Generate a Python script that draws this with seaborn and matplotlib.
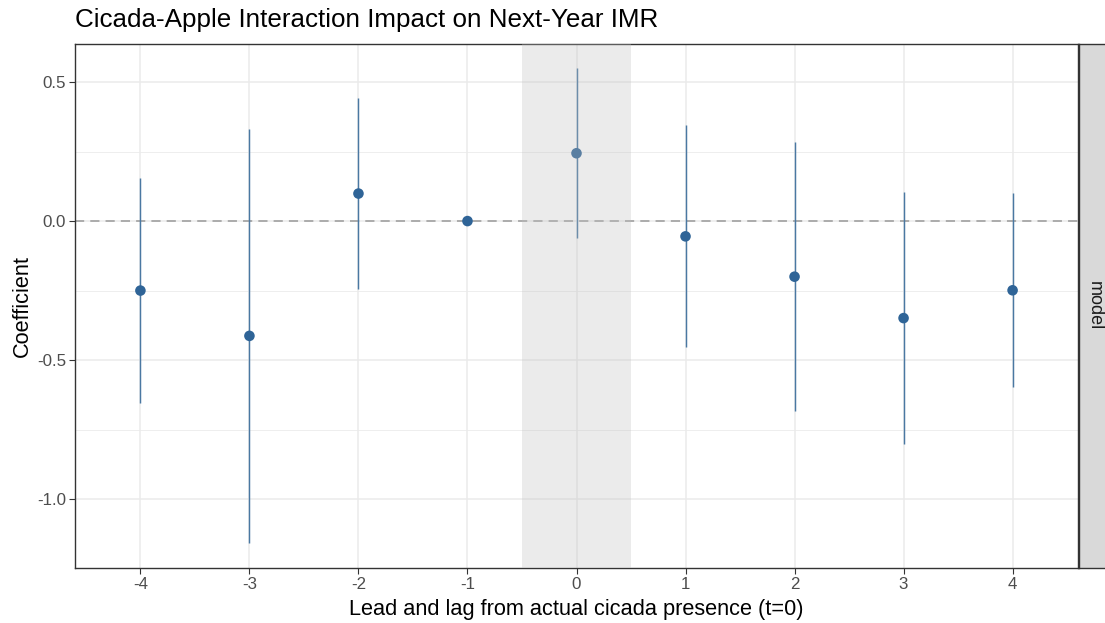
import numpy as np
import pandas as pd
import matplotlib
matplotlib.use("Agg")
import matplotlib.pyplot as plt
import seaborn as sns

# ---- data ----
periods = [-4, -3, -2, -1, 0, 1, 2, 3, 4]
estimates = [-0.250, -0.413, 0.099, 0.000, 0.244, -0.055, -0.200, -0.349, -0.249]
ci_low = [-0.653, -1.159, -0.243, 0.000, -0.062, -0.454, -0.682, -0.801, -0.596]
ci_high = [0.154, 0.333, 0.441, 0.000, 0.551, 0.345, 0.284, 0.105, 0.101]
y_ticks = [0.5, 0.0, -0.5, -1.0]
y_tick_labels = ["0.5", "0.0", "-0.5", "-1.0"]
title = "Cicada-Apple Interaction Impact on Next-Year IMR"
x_label = "Lead and lag from actual cicada presence (t=0)"
y_label = "Coefficient"
strip_label = "model"

df = pd.DataFrame({"period": periods, "estimate": estimates,
                   "low": ci_low, "high": ci_high})

sns.set_theme(style="white")
plt.rcParams["font.family"] = ["Liberation Sans", "DejaVu Sans"]

fig = plt.figure(figsize=(11.05, 6.23), dpi=100)
L, R, T, B = 75, 1078, 44, 568
W, H = 1105, 623
ax = fig.add_axes([L / W, 1 - B / H, (R - L) / W, (B - T) / H])

ax.set_facecolor("white")
ax.set_xlim(-4.6, 4.6)
ax.set_ylim(-1.248, 0.637)

# grid
for yv in [0.25, -0.25, -0.75]:
    ax.axhline(yv, color="#EBEBEB", lw=0.6, zorder=0)
for yv in y_ticks:
    ax.axhline(yv, color="#EBEBEB", lw=1.1, zorder=0)
for xv in periods:
    ax.axvline(xv, color="#EBEBEB", lw=1.1, zorder=0)

ax.axhline(0, color="#999999", lw=1.1, ls=(0, (6, 4)), zorder=1)

ax.vlines(df["period"], df["low"], df["high"], color="#4A78A2", lw=1.05, zorder=2)
sns.scatterplot(data=df, x="period", y="estimate", ax=ax, color="#2F6497",
                s=58, edgecolor="none", linewidth=0, zorder=3, legend=False)

ax.axvspan(-0.5, 0.5, color="#BEBEBE", alpha=0.3, lw=0, zorder=4)

ax.set_xticks(periods)
ax.set_xticklabels([str(p) for p in periods])
ax.set_yticks(y_ticks)
ax.set_yticklabels(y_tick_labels)
ax.tick_params(axis="both", which="major", length=4, width=0.8, color="#333333",
               labelcolor="#4D4D4D", labelsize=12.2, pad=2.5, bottom=True, left=True)
for sp in ax.spines.values():
    sp.set_color("#333333")
    sp.set_linewidth(1.0)
    sp.set_visible(True)

ax.set_xlabel(x_label, fontsize=15.7, color="black", labelpad=5)
ax.set_ylabel(y_label, fontsize=15.7, color="black", labelpad=3)

fig.text(L / W, 1 - 20 / H, title, fontsize=18.7, color="black",
         ha="left", va="center")

# facet strip on the right
sax = fig.add_axes([1079 / W, 1 - B / H, 32 / W, (B - T) / H])
sax.set_facecolor("#D9D9D9")
sax.set_xticks([])
sax.set_yticks([])
for sp in sax.spines.values():
    sp.set_color("#333333")
    sp.set_linewidth(1.0)
sax.text(1094 / W, 1 - 306 / H, strip_label, transform=fig.transFigure,
         rotation=-90, fontsize=13, color="#1A1A1A", ha="center", va="center")

fig.savefig("out.png", dpi=100)
